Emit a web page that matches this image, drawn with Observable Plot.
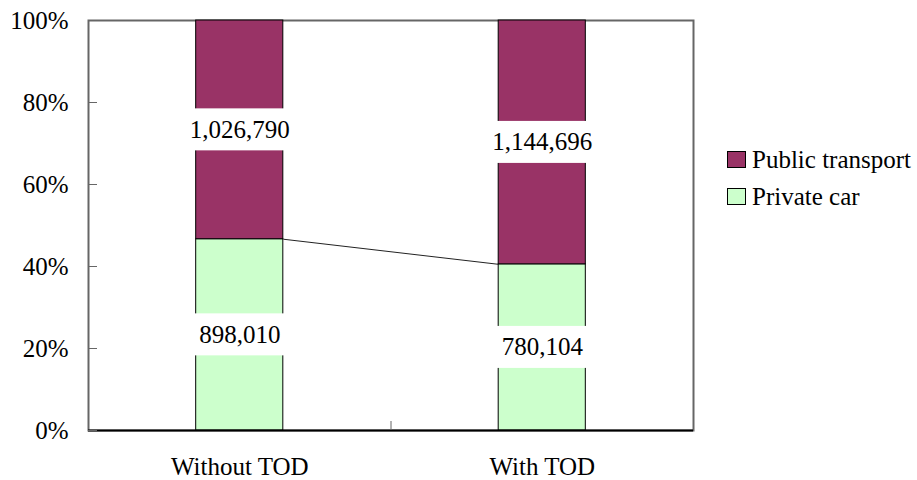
<!DOCTYPE html>
<html>
<head>
<meta charset="utf-8">
<script src="https://cdn.jsdelivr.net/npm/d3@7"></script>
<script src="https://cdn.jsdelivr.net/npm/@observablehq/plot@0.6"></script>
<style>
  html, body { margin: 0; padding: 0; background: #fff; }
  #wrap { position: relative; width: 917px; height: 480px; font-family: "Liberation Serif", "Tinos", "DejaVu Serif", "Noto Serif", "FreeSerif", "Times New Roman", Times, serif; }
  #legend { position: absolute; left: 727px; top: 141px; font-size: 25px; color: #000; }
  .row { display: flex; align-items: center; height: 37px; white-space: nowrap; }
  .sw { width: 17px; height: 15px; border: 1px solid #000; margin-right: 6px; box-sizing: content-box; }
</style>
</head>
<body>
<div id="wrap">
  <div id="chart"></div>
  <div id="legend"></div>
</div>
<script>
// Trips by mode, with and without transit-oriented development
const categories = ["Without TOD", "With TOD"];
const privateCar = [898010, 780104];
const publicTransport = [1026790, 1144696];
const modes = ["Public transport", "Private car"];
const modeColors = ["#993366", "#CCFFCC"];
const yTicks = [0, 0.2, 0.4, 0.6, 0.8, 1];

const font = '"Liberation Serif", "Tinos", "DejaVu Serif", "Noto Serif", "FreeSerif", "Times New Roman", Times, serif';
const halfBar = 0.144; // half bar width, in category units

// 100% stacked segments: private car at the bottom, public transport on top
const segments = [];
categories.forEach((cat, i) => {
  const total = privateCar[i] + publicTransport[i];
  const share = privateCar[i] / total;
  const xc = i + 0.5;
  segments.push({cat, mode: "Private car", value: privateCar[i], x1: xc - halfBar, x2: xc + halfBar, xc, y1: 0, y2: share});
  segments.push({cat, mode: "Public transport", value: publicTransport[i], x1: xc - halfBar, x2: xc + halfBar, xc, y1: share, y2: 1});
});
const privTops = segments.filter(d => d.mode === "Private car");
const connector = [{
  x1: privTops[0].x2, y1: privTops[0].y2,
  x2: privTops[1].x1, y2: privTops[1].y2
}];

const fmt = d3.format(",");
const chart = Plot.plot({
  width: 917,
  height: 480,
  marginLeft: 88,
  marginRight: 224,
  marginTop: 20,
  marginBottom: 50,
  style: {fontFamily: font, fontSize: "25px", color: "#000", background: "#fff", overflow: "visible"},
  x: {domain: [0, 2]},
  y: {domain: [0, 1]},
  color: {domain: modes, range: modeColors},
  marks: [
    Plot.frame({stroke: "#666", strokeWidth: 2}),
    Plot.rect(segments, {x1: "x1", x2: "x2", y1: "y1", y2: "y2", fill: "mode", stroke: "#000", strokeWidth: 1}),
    Plot.link(connector, {x1: "x1", y1: "y1", x2: "x2", y2: "y2", stroke: "#222", strokeWidth: 1}),
    Plot.text(segments, {
      x: "xc", y: d => (d.y1 + d.y2) / 2, text: d => fmt(d.value),
      fontSize: 25, fill: "#000", fontFamily: font
    }),
    Plot.ruleY([0], {stroke: "#000", strokeWidth: 2}),
    Plot.axisY({ticks: yTicks, tickSize: 0, tickPadding: 20, tickFormat: d3.format(".0%"), fontSize: 25, fontFamily: font}),
    Plot.axisY({ticks: yTicks, tickSize: -9, tickFormat: () => "", stroke: "#666"}),
    Plot.axisX({ticks: [0.5, 1.5], tickSize: 0, tickPadding: 27, tickFormat: v => categories[Math.round(v - 0.5)], fontSize: 25, fontFamily: font}),
    Plot.axisX({ticks: [1], tickSize: -9, tickFormat: () => "", stroke: "#666"})
  ]
});
document.getElementById("chart").append(chart);

// white boxes behind the value labels
chart.querySelectorAll('g[aria-label="text"] text').forEach(t => {
  const b = t.getBBox();
  const r = document.createElementNS("http://www.w3.org/2000/svg", "rect");
  r.setAttribute("x", b.x - 6);
  r.setAttribute("y", b.y - 7.5);
  r.setAttribute("width", b.width + 12);
  r.setAttribute("height", b.height + 15);
  r.setAttribute("fill", "#fff");
  if (t.getAttribute("transform")) r.setAttribute("transform", t.getAttribute("transform"));
  t.parentNode.insertBefore(r, t);
});

// legend
const legend = document.getElementById("legend");
modes.forEach((m, i) => {
  const row = document.createElement("div");
  row.className = "row";
  const sw = document.createElement("span");
  sw.className = "sw";
  sw.style.background = modeColors[i];
  const label = document.createElement("span");
  label.textContent = m;
  row.append(sw, label);
  legend.append(row);
});
</script>
</body>
</html>
